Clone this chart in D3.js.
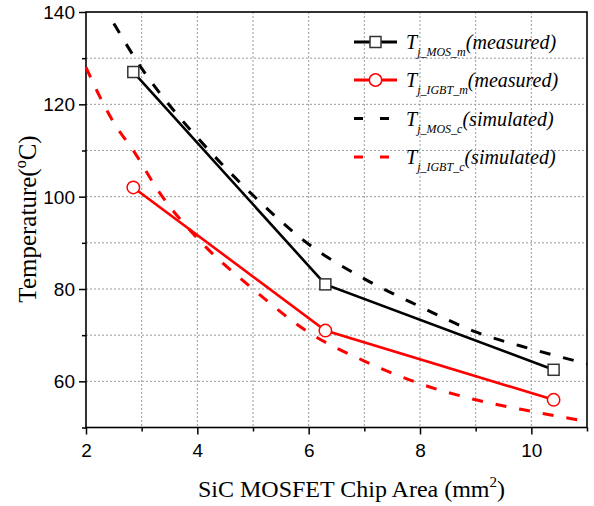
<!DOCTYPE html>
<html>
<head>
<meta charset="utf-8">
<script src="https://cdn.jsdelivr.net/npm/d3@7"></script>
<style>
  html, body { margin: 0; padding: 0; background: #fff; }
  svg { display: block; }
</style>
</head>
<body>
<svg id="chart" width="594" height="506"></svg>
<script>
// Chip areas (mm²) and junction temperatures (°C)
const areaMeasured = [2.85, 6.3, 10.4];
const tjMosMeasured = [127, 81, 62.5];
const tjIgbtMeasured = [102, 71, 56];

const areaMosSim = [2.5, 3, 3.5, 4, 5, 6, 7, 8, 9, 10, 11];
const tjMosSim = [137.5, 127.8, 119.8, 112.8, 100.3, 89.7, 82.2, 76.2, 70.7, 67.0, 63.8];

const areaIgbtSim = [2, 2.25, 2.5, 2.85, 3.33, 4, 5, 6, 7, 8, 9, 10, 11];
const tjIgbtSim = [128, 121.6, 116, 110, 100.7, 91, 80, 70.6, 64.4, 59.5, 56, 53.5, 51.3];

const xTicks = [2, 4, 6, 8, 10];
const xMinorTicks = [3, 5, 7, 9, 11];
const yTicks = [60, 80, 100, 120, 140];
const yMinorTicks = [50, 70, 90, 110, 130];

const legendItems = [
  { sub: "j_MOS_m", note: "(measured)", color: "#000", dashed: false, marker: "square" },
  { sub: "j_IGBT_m", note: "(measured)", color: "#ff0000", dashed: false, marker: "circle" },
  { sub: "j_MOS_c", note: "(simulated)", color: "#000", dashed: true, marker: null },
  { sub: "j_IGBT_c", note: "(simulated)", color: "#ff0000", dashed: true, marker: null }
];

const svg = d3.select("#chart");
const plotLeft = 86, plotRight = 587, plotTop = 12, plotBottom = 427.5;

const x = d3.scaleLinear().domain([2, 11]).range([plotLeft, plotRight]);
const y = d3.scaleLinear().domain([50, 140]).range([plotBottom, plotTop]);

// Dotted grid at every major and minor tick
const grid = svg.append("g")
  .attr("stroke", "#9a9a9a").attr("stroke-width", 1).attr("stroke-dasharray", "2,2");
xTicks.concat(xMinorTicks).filter(v => v > 2 && v < 11).forEach(v => {
  grid.append("line").attr("x1", x(v)).attr("x2", x(v)).attr("y1", plotTop).attr("y2", plotBottom);
});
yTicks.concat(yMinorTicks).filter(v => v > 50 && v < 140).forEach(v => {
  grid.append("line").attr("x1", plotLeft).attr("x2", plotRight).attr("y1", y(v)).attr("y2", y(v));
});

// Axes
const tickFont = "'Liberation Sans', Arial, sans-serif";
const xAxis = svg.append("g").attr("transform", `translate(0,${plotBottom})`)
  .call(d3.axisBottom(x).tickValues(xTicks).tickSize(7).tickPadding(4).tickFormat(d3.format("d")));
const xMinor = svg.append("g").attr("transform", `translate(0,${plotBottom})`)
  .call(d3.axisBottom(x).tickValues(xMinorTicks).tickSize(4).tickFormat(""));
const yAxis = svg.append("g").attr("transform", `translate(${plotLeft},0)`)
  .call(d3.axisLeft(y).tickValues(yTicks).tickSize(7).tickPadding(4).tickFormat(d3.format("d")));
const yMinor = svg.append("g").attr("transform", `translate(${plotLeft},0)`)
  .call(d3.axisLeft(y).tickValues(yMinorTicks).tickSize(4).tickFormat(""));

[xAxis, xMinor, yAxis, yMinor].forEach(g => {
  g.select(".domain").remove();
  g.selectAll(".tick line").attr("stroke", "#000").attr("stroke-width", 1.5);
  g.selectAll("text").attr("font-family", tickFont).attr("font-size", 19).attr("fill", "#000");
});
xAxis.selectAll("text").attr("dy", "0.95em");
yAxis.selectAll("text").attr("dy", "0.35em");

// Frame
svg.append("rect")
  .attr("x", plotLeft).attr("y", plotTop)
  .attr("width", plotRight - plotLeft).attr("height", plotBottom - plotTop)
  .attr("fill", "none").attr("stroke", "#000").attr("stroke-width", 1.6);

// Axis titles
const serif = "'Liberation Serif', 'Times New Roman', serif";
const xt = svg.append("text")
  .attr("x", (plotLeft + plotRight) / 2 + 15).attr("y", 497)
  .attr("text-anchor", "middle").attr("font-family", serif).attr("font-size", 24);
xt.append("tspan").text("SiC MOSFET Chip Area (mm");
xt.append("tspan").attr("font-size", 15).attr("dy", -10).text("2");
xt.append("tspan").attr("dy", 10).text(")");

const yt = svg.append("text")
  .attr("transform", `translate(36,219) rotate(-90)`)
  .attr("text-anchor", "middle").attr("font-family", serif).attr("font-size", 25);
yt.append("tspan").text("Temperature(");
yt.append("tspan").attr("font-size", 16).attr("dy", -10).text("o");
yt.append("tspan").attr("dy", 10).text("C)");

// Curves
const line = d3.line().x(d => x(d[0])).y(d => y(d[1]));
const smooth = d3.line().x(d => x(d[0])).y(d => y(d[1])).curve(d3.curveMonotoneX);

const plot = svg.append("g");
plot.append("path")
  .datum(areaMosSim.map((a, i) => [a, tjMosSim[i]]))
  .attr("d", smooth).attr("fill", "none").attr("stroke", "#000")
  .attr("stroke-width", 3).attr("stroke-dasharray", "11,13");
plot.append("path")
  .datum(areaIgbtSim.map((a, i) => [a, tjIgbtSim[i]]))
  .attr("d", smooth).attr("fill", "none").attr("stroke", "#ff0000")
  .attr("stroke-width", 3).attr("stroke-dasharray", "11,13");

plot.append("path")
  .datum(areaMeasured.map((a, i) => [a, tjMosMeasured[i]]))
  .attr("d", line).attr("fill", "none").attr("stroke", "#000").attr("stroke-width", 2.6);
plot.append("path")
  .datum(areaMeasured.map((a, i) => [a, tjIgbtMeasured[i]]))
  .attr("d", line).attr("fill", "none").attr("stroke", "#ff0000").attr("stroke-width", 2.6);

const sq = 11;
plot.selectAll("rect.mos").data(areaMeasured.map((a, i) => [a, tjMosMeasured[i]]))
  .enter().append("rect")
  .attr("x", d => x(d[0]) - sq / 2).attr("y", d => y(d[1]) - sq / 2)
  .attr("width", sq).attr("height", sq)
  .attr("fill", "#fff").attr("stroke", "#333").attr("stroke-width", 1.5);
plot.selectAll("circle.igbt").data(areaMeasured.map((a, i) => [a, tjIgbtMeasured[i]]))
  .enter().append("circle")
  .attr("cx", d => x(d[0])).attr("cy", d => y(d[1])).attr("r", 6.2)
  .attr("fill", "#fff").attr("stroke", "#ff0000").attr("stroke-width", 1.5);

// Legend
const legend = svg.append("g");
const rowY = [42, 80, 118.5, 157];
legendItems.forEach((it, i) => {
  const cy = rowY[i];
  const g = legend.append("g");
  g.append("line").attr("x1", 354).attr("x2", 397).attr("y1", cy).attr("y2", cy)
    .attr("stroke", it.color).attr("stroke-width", 3)
    .attr("stroke-dasharray", it.dashed ? "9,17" : null);
  if (it.marker === "square") {
    g.append("rect").attr("x", 375.5 - sq / 2).attr("y", cy - sq / 2)
      .attr("width", sq).attr("height", sq)
      .attr("fill", "#fff").attr("stroke", "#333").attr("stroke-width", 1.5);
  } else if (it.marker === "circle") {
    g.append("circle").attr("cx", 375.5).attr("cy", cy).attr("r", 6.2)
      .attr("fill", "#fff").attr("stroke", "#ff0000").attr("stroke-width", 1.5);
  }
  const t = g.append("text").attr("x", 406).attr("y", cy + 7)
    .attr("font-family", serif).attr("font-style", "italic").attr("font-size", 20).attr("fill", "#000");
  t.append("tspan").text("T");
  t.append("tspan").attr("font-size", 12).attr("dy", 7).text(it.sub);
  t.append("tspan").attr("dy", -7).text(it.note);
});
</script>
</body>
</html>
